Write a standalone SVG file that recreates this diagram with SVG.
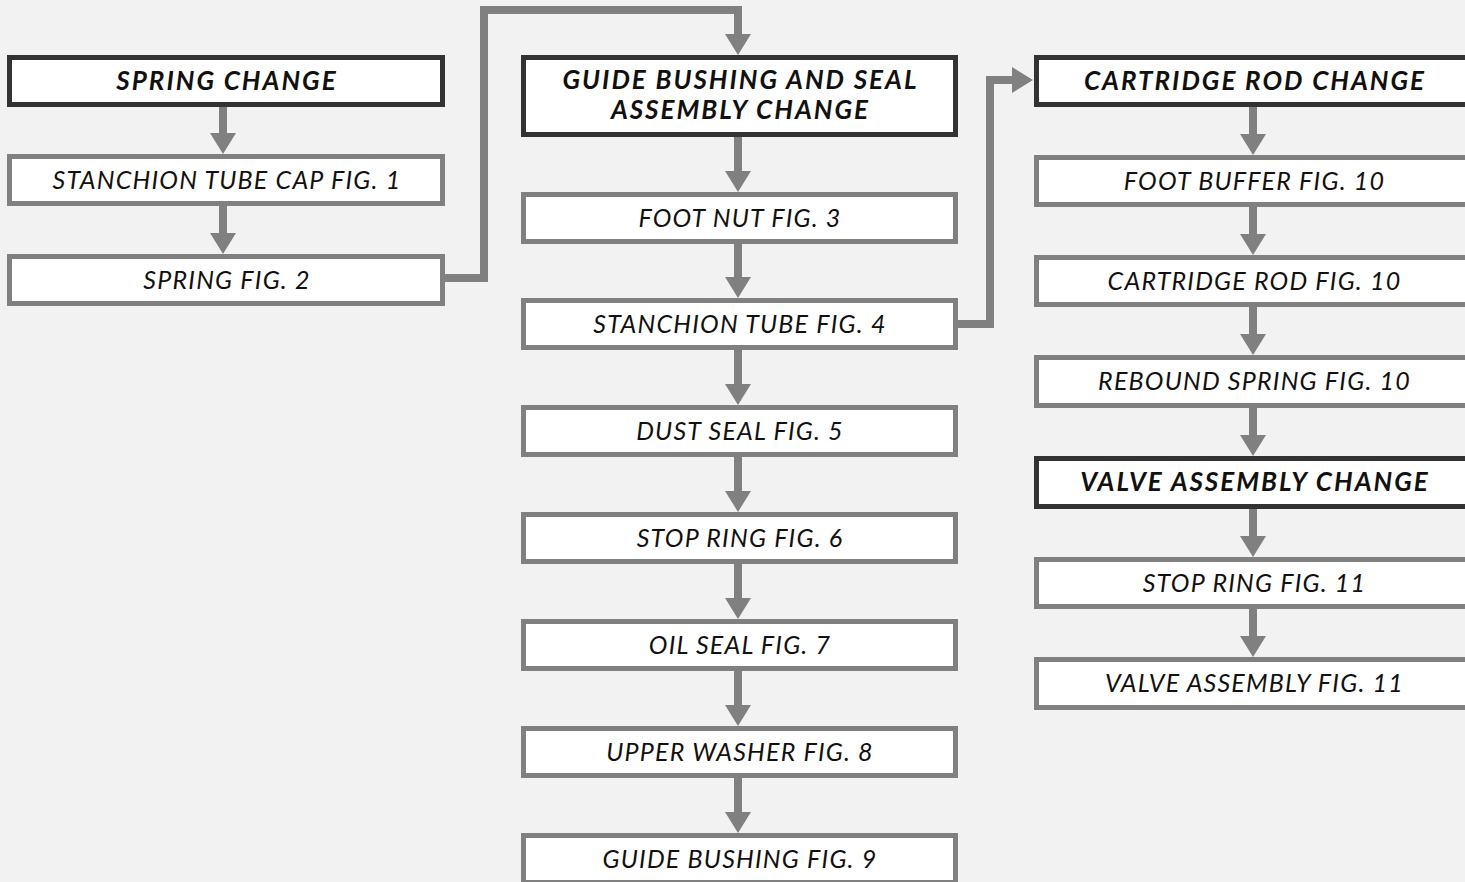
<svg xmlns="http://www.w3.org/2000/svg" width="1465" height="882" viewBox="0 0 1465 882">
<style>
.bg{fill:#f2f2f2}
.box{fill:#ffffff;stroke:#808080;stroke-width:5}
.hdr{fill:#ffffff;stroke:#333333;stroke-width:5}
.t{font-family:Lato,"Open Sans","Liberation Sans",sans-serif;font-style:italic;font-size:25px;letter-spacing:1.2px;fill:#111111;text-anchor:middle}
.th{font-family:Lato,"Open Sans","Liberation Sans",sans-serif;font-style:italic;font-weight:bold;font-size:26px;letter-spacing:2px;fill:#111111;text-anchor:middle}
.c{stroke:#808080;stroke-width:8;fill:none;stroke-linejoin:miter}
</style>
<defs>
<marker id="ah" viewBox="0 0 21 26" refX="0" refY="13" markerWidth="21" markerHeight="26" markerUnits="userSpaceOnUse" orient="auto">
<path d="M0,0 L21,13 L0,26 Z" fill="#808080"/>
</marker>
</defs>
<rect class="bg" x="0" y="0" width="1465" height="882"/>
<g id="connectors">
<line class="c" x1="223" y1="107" x2="223" y2="133" marker-end="url(#ah)"/>
<line class="c" x1="223" y1="206" x2="223" y2="233" marker-end="url(#ah)"/>
<polyline class="c" points="445,278 484,278 484,10 738,10 738,34" marker-end="url(#ah)"/>
<line class="c" x1="738" y1="137" x2="738" y2="171" marker-end="url(#ah)"/>
<line class="c" x1="738" y1="244" x2="738" y2="277" marker-end="url(#ah)"/>
<line class="c" x1="738" y1="350" x2="738" y2="384" marker-end="url(#ah)"/>
<line class="c" x1="738" y1="457" x2="738" y2="491" marker-end="url(#ah)"/>
<line class="c" x1="738" y1="564" x2="738" y2="598" marker-end="url(#ah)"/>
<line class="c" x1="738" y1="671" x2="738" y2="705" marker-end="url(#ah)"/>
<line class="c" x1="738" y1="778" x2="738" y2="812" marker-end="url(#ah)"/>
<polyline class="c" points="958,324 990,324 990,80 1012,80" marker-end="url(#ah)"/>
<line class="c" x1="1253" y1="107" x2="1253" y2="134" marker-end="url(#ah)"/>
<line class="c" x1="1253" y1="207" x2="1253" y2="234" marker-end="url(#ah)"/>
<line class="c" x1="1253" y1="307" x2="1253" y2="334" marker-end="url(#ah)"/>
<line class="c" x1="1253" y1="408" x2="1253" y2="435" marker-end="url(#ah)"/>
<line class="c" x1="1253" y1="509" x2="1253" y2="536" marker-end="url(#ah)"/>
<line class="c" x1="1253" y1="609" x2="1253" y2="636" marker-end="url(#ah)"/>
</g>
<g id="n-spring-change"><rect class="hdr" x="9.5" y="57.5" width="433" height="47"/><text class="th" x="227" y="90">SPRING CHANGE</text></g>
<g id="n-stanchion-cap"><rect class="box" x="9.5" y="156.5" width="433" height="47"/><text class="t" x="227" y="189">STANCHION TUBE CAP FIG. 1</text></g>
<g id="n-spring-fig2"><rect class="box" x="9.5" y="256.5" width="433" height="47"/><text class="t" x="227" y="289">SPRING FIG. 2</text></g>

<g id="n-guide-header"><rect class="hdr" x="523.5" y="57.5" width="432" height="77"/><text class="th" x="740.5" y="89">GUIDE BUSHING AND SEAL</text><text class="th" x="740.5" y="119">ASSEMBLY CHANGE</text></g>
<g id="n-foot-nut"><rect class="box" x="523.5" y="194.5" width="432" height="47"/><text class="t" x="740" y="227">FOOT NUT FIG. 3</text></g>
<g id="n-stanchion-tube"><rect class="box" x="523.5" y="300.5" width="432" height="47"/><text class="t" x="740" y="333">STANCHION TUBE FIG. 4</text></g>
<g id="n-dust-seal"><rect class="box" x="523.5" y="407.5" width="432" height="47"/><text class="t" x="740" y="440">DUST SEAL FIG. 5</text></g>
<g id="n-stop-ring6"><rect class="box" x="523.5" y="514.5" width="432" height="47"/><text class="t" x="740" y="547">STOP RING FIG. 6</text></g>
<g id="n-oil-seal"><rect class="box" x="523.5" y="621.5" width="432" height="47"/><text class="t" x="740" y="654">OIL SEAL FIG. 7</text></g>
<g id="n-upper-washer"><rect class="box" x="523.5" y="728.5" width="432" height="47"/><text class="t" x="740" y="761">UPPER WASHER FIG. 8</text></g>
<g id="n-guide-bushing"><rect class="box" x="523.5" y="835.5" width="432" height="47"/><text class="t" x="740" y="868">GUIDE BUSHING FIG. 9</text></g>

<g id="n-cartridge-header"><rect class="hdr" x="1036.5" y="57.5" width="433" height="47"/><text class="th" x="1255" y="90">CARTRIDGE ROD CHANGE</text></g>
<g id="n-foot-buffer"><rect class="box" x="1036.5" y="157.5" width="433" height="47"/><text class="t" x="1254.5" y="190">FOOT BUFFER FIG. 10</text></g>
<g id="n-cartridge-rod"><rect class="box" x="1036.5" y="257.5" width="433" height="47"/><text class="t" x="1254.5" y="290">CARTRIDGE ROD FIG. 10</text></g>
<g id="n-rebound-spring"><rect class="box" x="1036.5" y="357.5" width="433" height="48"/><text class="t" x="1254.5" y="390">REBOUND SPRING FIG. 10</text></g>
<g id="n-valve-header"><rect class="hdr" x="1036.5" y="458.5" width="433" height="48"/><text class="th" x="1255" y="491">VALVE ASSEMBLY CHANGE</text></g>
<g id="n-stop-ring11"><rect class="box" x="1036.5" y="559.5" width="433" height="47"/><text class="t" x="1254.5" y="592">STOP RING FIG. 11</text></g>
<g id="n-valve-assembly"><rect class="box" x="1036.5" y="659.5" width="433" height="48"/><text class="t" x="1254.5" y="692">VALVE ASSEMBLY FIG. 11</text></g>
</svg>
